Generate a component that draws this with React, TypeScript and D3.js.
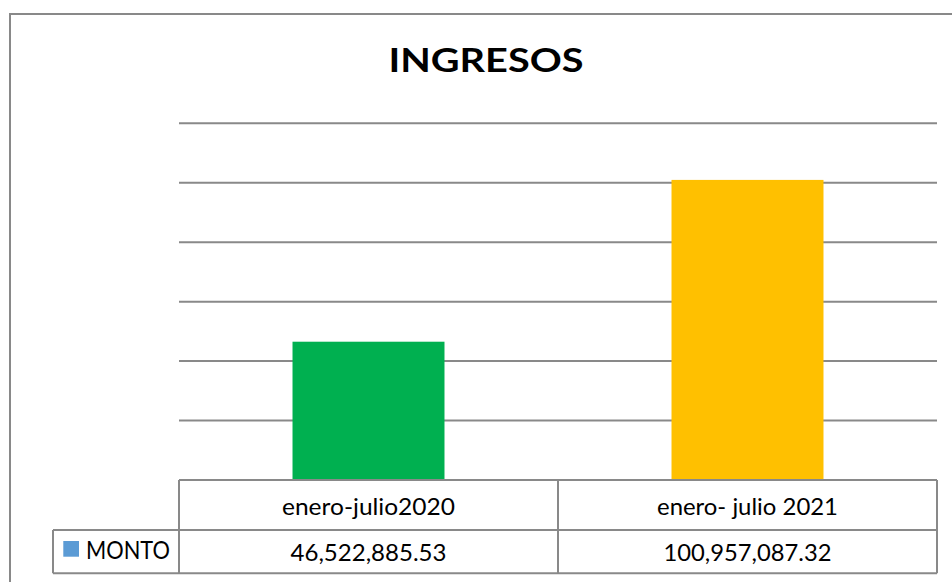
import React from "react";
import * as d3 from "d3";

const title = "INGRESOS";
const categories = ["enero-julio2020", "enero- julio 2021"];
const values = [46522885.53, 100957087.32];
const valueLabels = ["46,522,885.53", "100,957,087.32"];
const barColors = ["#00b050", "#ffc000"];
const seriesName = "MONTO";
const seriesColor = "#5b9bd5";
const yTicks = [20e6, 40e6, 60e6, 80e6, 100e6, 120e6];

const W = 952;
const H = 582;
const plotLeft = 179;
const plotRight = 937;
const baseY = 480;
const topY = 123.3;
const rowMid = 530;
const rowBottom = 573.3;
const legendLeft = 53;
const gray = "#898989";
const font = "Lato, 'Open Sans', sans-serif";

const headerWidths = [173, 181];
const valueWidths = [156, 168];

export default function App() {
  const x = d3.scaleBand<string>().domain(categories).range([plotLeft, plotRight]).padding(0);
  const y = d3.scaleLinear().domain([0, 120e6]).range([baseY, topY]);
  const bw = x.bandwidth();
  const barW = bw * 0.401;

  return (
    <svg
      width={W}
      height={H}
      style={{ position: "absolute", left: 0, top: 0, background: "#fff" }}
    >
      <rect x={10} y={14} width={W + 20} height={H + 20} fill="#fff" stroke={gray} strokeWidth={2} />
      <text
        x={486}
        y={71.7}
        textAnchor="middle"
        fontFamily={font}
        fontWeight={700}
        fontSize={33}
        fill="#000"
        textLength={195}
        lengthAdjust="spacingAndGlyphs"
      >
        {title}
      </text>
      {yTicks.map((t) => (
        <line key={t} x1={plotLeft} x2={plotRight} y1={y(t)} y2={y(t)} stroke={gray} strokeWidth={2} />
      ))}
      {categories.map((c, i) => (
        <rect
          key={c}
          x={(x(c) as number) + bw / 2 - barW / 2}
          y={y(values[i])}
          width={barW}
          height={baseY - y(values[i])}
          fill={barColors[i]}
        />
      ))}
      <g stroke={gray} strokeWidth={2} fill="none">
        <line x1={plotLeft} x2={plotRight} y1={baseY} y2={baseY} />
        <line x1={legendLeft} x2={plotRight} y1={rowMid} y2={rowMid} />
        <line x1={legendLeft} x2={plotRight} y1={rowBottom} y2={rowBottom} />
        <line x1={legendLeft} x2={legendLeft} y1={rowMid} y2={rowBottom} />
        <line x1={plotLeft} x2={plotLeft} y1={baseY} y2={rowBottom} />
        {categories.map((c) => (
          <line key={c} x1={(x(c) as number) + bw} x2={(x(c) as number) + bw} y1={baseY} y2={rowBottom} />
        ))}
      </g>
      {categories.map((c, i) => (
        <g key={c}>
          <text
            x={(x(c) as number) + bw / 2}
            y={515}
            textAnchor="middle"
            fontFamily={font}
            fontSize={24}
            fill="#000"
            textLength={headerWidths[i]}
            lengthAdjust="spacingAndGlyphs"
          >
            {c}
          </text>
          <text
            x={(x(c) as number) + bw / 2}
            y={560.7}
            textAnchor="middle"
            fontFamily={font}
            fontSize={24}
            fill="#000"
            textLength={valueWidths[i]}
            lengthAdjust="spacingAndGlyphs"
          >
            {valueLabels[i]}
          </text>
        </g>
      ))}
      <rect x={63.3} y={541} width={15.7} height={15.7} fill={seriesColor} />
      <text
        x={86}
        y={559.3}
        fontFamily={font}
        fontSize={24.5}
        fill="#000"
        textLength={84}
        lengthAdjust="spacingAndGlyphs"
      >
        {seriesName}
      </text>
    </svg>
  );
}
